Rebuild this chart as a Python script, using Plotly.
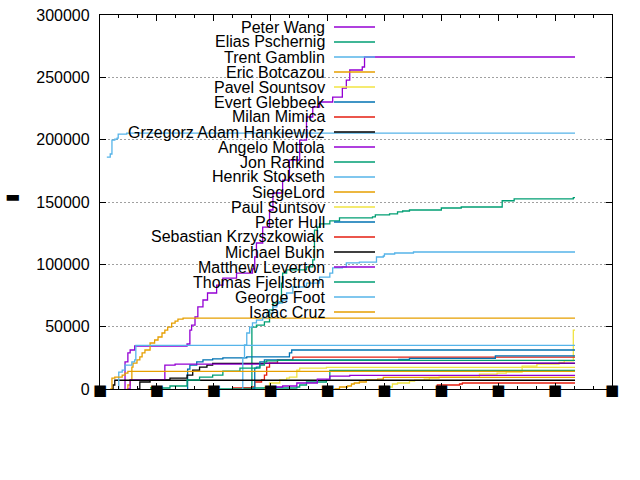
import plotly.graph_objects as go

names = ["Peter Wang", "Elias Pschernig", "Trent Gamblin", "Eric Botcazou", "Pavel Sountsov",
         "Evert Glebbeek", "Milan Mimica", "Grzegorz Adam Hankiewicz", "Angelo Mottola", "Jon Rafkind",
         "Henrik Stokseth", "SiegeLord", "Paul Suntsov", "Peter Hull", "Sebastian Krzyszkowiak",
         "Michael Bukin", "Matthew Leverton", "Thomas Fjellstrom", "George Foot", "Isaac Cruz"]

peter_wang_x = [0.44, 0.44, 0.49, 0.53, 0.61, 1.53, 1.58, 1.61, 1.67, 1.72, 1.81, 1.89, 2.05, 2.16, 2.40, 2.68, 2.72, 2.75, 2.86, 2.98, 3.04, 3.21, 3.33, 3.51, 3.63, 3.74, 3.86, 4.09, 4.26, 4.33, 4.39, 4.61, 4.65, 8.35]
peter_wang_y = [0, 21700, 28900, 31300, 34500, 36100, 47300, 51300, 57800, 65800, 71400, 77000, 83400, 89000, 93000, 96300, 105900, 117100, 129900, 143600, 157200, 167600, 183700, 199700, 218200, 226200, 230200, 234200, 241400, 247800, 255900, 258300, 266300, 266300]

elias_x = [2.49, 2.67, 2.75, 2.89, 2.98, 3.04, 3.16, 3.19, 3.21, 3.28, 3.63, 3.74, 3.77, 3.82, 3.86, 4.04, 4.21, 4.79, 4.84, 5.09, 5.23, 5.32, 5.44, 6.00, 6.35, 7.07, 7.28, 8.32, 8.35]
elias_y = [800, 49700, 51300, 53900, 63400, 69000, 69800, 85000, 93000, 95500, 97900, 103500, 127500, 129900, 132400, 134800, 137200, 138000, 139600, 140400, 142000, 142800, 143600, 145200, 146000, 151000, 152500, 153500, 153500]

trent_x = [0.12, 0.18, 0.21, 0.26, 0.30, 0.32, 0.47, 8.35]
trent_y = [186000, 188500, 199700, 200500, 201300, 204500, 205300, 205300]

eric_x = [0.47, 0.49, 0.53, 0.56, 0.58, 0.65, 0.70, 0.74, 0.79, 0.88, 0.96, 1.02, 1.09, 1.14, 1.19, 1.26, 1.32, 1.37, 1.46, 8.35]
eric_y = [0, 3200, 7200, 17600, 20800, 23300, 25700, 28900, 31300, 36900, 39300, 41700, 44900, 47300, 49700, 52900, 54500, 56100, 56900, 56900]

pavel_x = [4.96, 5.04, 5.14, 5.23, 5.44, 5.53, 5.70, 5.79, 5.96, 6.67, 6.98, 7.14, 7.42, 7.68, 8.07, 8.16, 8.32, 8.35]
pavel_y = [0, 1600, 4000, 4800, 6400, 7000, 8000, 8800, 9600, 12000, 12800, 13600, 18400, 20000, 21400, 22500, 47300, 47300]

evert_x = [1.53, 1.54, 1.58, 1.70, 1.81, 1.98, 2.16, 2.58, 3.33, 3.37, 8.35]
evert_y = [0, 16000, 19200, 21700, 23300, 24100, 24900, 25700, 28900, 31300, 31300]

milan_x = [2.33, 2.68, 2.72, 2.84, 2.89, 2.93, 2.98, 3.12, 3.39, 8.35]
milan_y = [800, 1600, 5600, 7200, 11200, 17600, 20800, 23300, 25500, 25500]

grzegorz_x = [0.65, 0.70, 0.88, 1.23, 1.53, 1.63, 1.75, 1.88, 1.98, 8.35]
grzegorz_y = [0, 5600, 7200, 8800, 11200, 15200, 17600, 19200, 20600, 20600]

angelo_x = [0.49, 0.53, 1.11, 1.14, 1.32, 2.89, 8.35]
angelo_y = [0, 7200, 7200, 19200, 20000, 20800, 20800]

jon_x = [2.11, 2.68, 3.46, 3.51, 3.63, 3.98, 4.04, 8.35]
jon_y = [0, 800, 1600, 3200, 5600, 7200, 15000, 15000]

henrik_x = [2.49, 2.51, 2.54, 2.58, 2.63, 2.68, 2.75, 2.86, 2.93, 3.04, 3.11, 3.21, 3.28, 3.39, 3.63, 3.86, 4.04, 4.09, 4.26, 4.33, 4.56, 4.86, 4.98, 5.00, 5.18, 5.51, 8.35]
henrik_y = [0, 24900, 35300, 44900, 49700, 53100, 55300, 57300, 60900, 65800, 69000, 71400, 77000, 81800, 85000, 89800, 93000, 97100, 97900, 101100, 101700, 105900, 106700, 108300, 109100, 109900, 109900]

siegelord_x = [4.12, 4.21, 4.35, 4.42, 4.47, 4.56, 4.68, 4.88, 4.98, 8.35]
siegelord_y = [0, 1600, 2400, 4000, 4800, 5600, 7200, 8000, 9400, 9400]

paul_x = [2.89, 2.98, 3.16, 3.28, 3.33, 3.46, 3.51, 3.98, 8.35]
paul_y = [0, 4800, 7200, 8800, 9600, 15200, 16800, 17400, 17400]

peter_hull_x = [2.68, 2.72, 2.75, 2.81, 2.89, 5.25, 5.44, 6.95, 8.35]
peter_hull_y = [0, 16800, 17600, 21700, 23300, 23800, 24600, 26500, 26500]

sebastian_x = [5.91, 5.93, 6.32, 6.37, 8.35]
sebastian_y = [0, 3200, 4000, 4800, 4800]

michael_x = [0.21, 0.23, 0.26, 8.35]
michael_y = [0, 3200, 7000, 7000]

matthew_x = [3.02, 3.04, 3.21, 3.46, 3.82, 4.04, 4.39, 8.35]
matthew_y = [0, 1600, 2400, 4800, 8000, 10400, 11000, 11000]

thomas_x = [0.88, 1.23, 1.53, 1.75, 1.98, 2.16, 2.46, 2.81, 2.89, 2.93, 3.12, 8.35]
thomas_y = [800, 2400, 7200, 9600, 11200, 14400, 16800, 19200, 21700, 22500, 23000, 23000]

george_x = [0.32, 0.33, 0.39, 0.44, 0.56, 0.61, 0.63, 8.35]
george_y = [0, 13600, 15200, 19200, 21700, 23300, 35000, 35000]

isaac_x = [0.18, 0.21, 0.26, 0.39, 0.44, 0.49, 8.35]
isaac_y = [0, 8800, 9600, 11200, 12800, 14200, 14200]

series_x = [peter_wang_x, elias_x, trent_x, eric_x, pavel_x, evert_x, milan_x, grzegorz_x, angelo_x, jon_x,
            henrik_x, siegelord_x, paul_x, peter_hull_x, sebastian_x, michael_x, matthew_x, thomas_x, george_x, isaac_x]
series_y = [peter_wang_y, elias_y, trent_y, eric_y, pavel_y, evert_y, milan_y, grzegorz_y, angelo_y, jon_y,
            henrik_y, siegelord_y, paul_y, peter_hull_y, sebastian_y, michael_y, matthew_y, thomas_y, george_y, isaac_y]

palette = ["#9400d3", "#009e73", "#56b4e9", "#e69f00", "#f0e442", "#0072b2", "#e51e10", "#000000"]

x_tick_vals = [0, 1, 2, 3, 4, 5, 6, 7, 8, 9]
x_tick_text = ["\u25a0"] * 10
y_tick_vals = [0, 50000, 100000, 150000, 200000, 250000, 300000]
y_title = "\u25ac"

FONT = "Liberation Sans, Arial, sans-serif"

fig = go.Figure()
for i, (xs, ys) in enumerate(zip(series_x, series_y)):
    fig.add_trace(go.Scatter(x=xs, y=ys, mode="lines", name=names[i],
                             line=dict(color=palette[i % 8], width=1.3, shape="hv"),
                             showlegend=False))

# gnuplot-style key: right-aligned text with line sample to the right
L, T, W, H = 100, 15, 512, 374
def px(xp):
    return (xp - L) / W
def py(yp):
    return (T + H - yp) / H

annotations = []
shapes = []
for i, n in enumerate(names):
    yrow = 27 + 15 * i
    annotations.append(dict(xref="paper", yref="paper", x=px(327), y=py(yrow), text=n,
                            showarrow=False, xanchor="right", yanchor="middle",
                            font=dict(family=FONT, size=16, color="#000000")))
    shapes.append(dict(type="line", xref="paper", yref="paper", x0=px(334), x1=px(375),
                       y0=py(yrow), y1=py(yrow), line=dict(color=palette[i % 8], width=1.3)))

# opaque key box hides the grid behind it
shapes.append(dict(type="rect", xref="paper", yref="paper", x0=px(110), x1=px(385),
                   y0=py(321), y1=py(17), fillcolor="white", line=dict(width=0), layer="between"))

annotations.append(dict(xref="paper", yref="paper", x=px(12), y=py(196), text=y_title,
                        showarrow=False, xanchor="center", yanchor="middle",
                        font=dict(family="DejaVu Sans", size=16, color="#000000")))

fig.update_layout(
    width=640, height=480,
    margin=dict(l=L, r=640 - L - W, t=T, b=480 - T - H, autoexpand=False),
    plot_bgcolor="white", paper_bgcolor="white",
    font=dict(family=FONT, size=16, color="#000000"),
    annotations=annotations, shapes=shapes,
    showlegend=False,
)
fig.update_xaxes(range=[0, 9], tickvals=x_tick_vals, ticktext=x_tick_text, automargin=False,
                 ticks="inside", ticklen=6, tickwidth=1, tickcolor="#000000",
                 showline=True, linecolor="#000000", linewidth=1.3, mirror="ticks",
                 showgrid=False, zeroline=False,
                 tickfont=dict(family="DejaVu Sans", size=15, color="#000000"),
                 ticklabelstandoff=-13,
                 minor=dict(dtick=1/3, tick0=0, ticks="inside", ticklen=3, tickcolor="#000000", showgrid=False))
fig.update_yaxes(range=[0, 300000], tickvals=y_tick_vals, tickformat="d", automargin=False,
                 ticks="inside", ticklen=6, tickwidth=1, tickcolor="#000000",
                 showline=True, linecolor="#000000", linewidth=1.3, mirror="ticks",
                 showgrid=True, gridcolor="#a0a0a0", gridwidth=1, griddash="2px,2px",
                 zeroline=False, ticklabelstandoff=6,
                 tickfont=dict(family=FONT, size=16, color="#000000"))

fig.write_html("out.html")
